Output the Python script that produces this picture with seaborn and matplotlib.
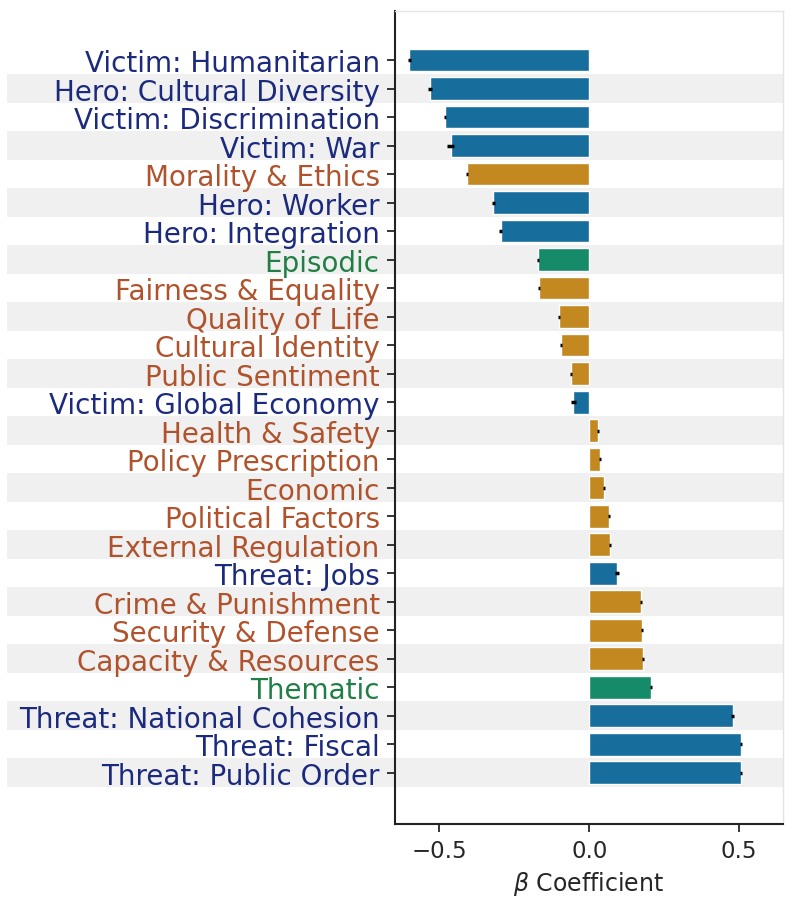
import matplotlib
matplotlib.use("Agg")
import matplotlib.pyplot as plt
import seaborn as sns
import pandas as pd

frames = [
    "Victim: Humanitarian", "Hero: Cultural Diversity", "Victim: Discrimination",
    "Victim: War", "Morality & Ethics", "Hero: Worker", "Hero: Integration",
    "Episodic", "Fairness & Equality", "Quality of Life", "Cultural Identity",
    "Public Sentiment", "Victim: Global Economy", "Health & Safety",
    "Policy Prescription", "Economic", "Political Factors", "External Regulation",
    "Threat: Jobs", "Crime & Punishment", "Security & Defense",
    "Capacity & Resources", "Thematic", "Threat: National Cohesion",
    "Threat: Fiscal", "Threat: Public Order",
]
kinds = [
    "narrative", "narrative", "narrative", "narrative", "generic", "narrative",
    "narrative", "style", "generic", "generic", "generic", "generic",
    "narrative", "generic", "generic", "generic", "generic", "generic",
    "narrative", "generic", "generic", "generic", "style", "narrative",
    "narrative", "narrative",
]
beta = [
    -0.600, -0.531, -0.482, -0.462, -0.409, -0.320, -0.296, -0.171, -0.168,
    -0.101, -0.094, -0.061, -0.053, 0.028, 0.037, 0.048, 0.067, 0.069,
    0.093, 0.173, 0.176, 0.178, 0.205, 0.478, 0.505, 0.505,
]
err = [
    0.004, 0.006, 0.003, 0.012, 0.003, 0.005, 0.004, 0.002, 0.003,
    0.004, 0.003, 0.004, 0.007, 0.003, 0.003, 0.003, 0.003, 0.004,
    0.006, 0.003, 0.003, 0.003, 0.003, 0.004, 0.004, 0.004,
]

bar_palette = {"narrative": "#0173b2", "generic": "#de8f05", "style": "#029e73"}
label_colors = {"narrative": "#1b2a7d", "generic": "#b0532c", "style": "#1f7f45"}

df = pd.DataFrame({"frame": frames, "kind": kinds, "beta": beta})

sns.set_style("ticks")
plt.rcParams["font.family"] = ["DejaVu Sans"]

fig = plt.figure(figsize=(7.88, 9.03), dpi=100)
ax = fig.add_axes([395 / 788, 1 - 825 / 903, (783 - 395) / 788, (825 - 12) / 903])

# alternating light bands spanning the label column and the plot area
for i in range(1, len(frames), 2):
    ax.axhspan(i - 0.5, i + 0.5, xmin=-1.0, xmax=1.0, color="#f0f0f0",
               zorder=0, clip_on=False, lw=0)

sns.barplot(data=df, x="beta", y="frame", hue="kind", palette=bar_palette,
            dodge=False, legend=False, errorbar=None, ax=ax, zorder=2)
ax.errorbar(beta, range(len(frames)), xerr=err, fmt="none",
            ecolor="black", elinewidth=2.5, capsize=0, zorder=3)

ax.set_xlim(-0.648, 0.646)
ax.set_ylim(26.8, -1.72)
ax.set_xticks([-0.5, 0.0, 0.5])
ax.set_xticklabels(["\u22120.5", "0.0", "0.5"])
ax.set_ylabel("")
ax.set_xlabel(r"$\beta$ Coefficient", fontsize=17, labelpad=5)
ax.tick_params(axis="x", labelsize=16.5, length=6, width=1.3, pad=5)
ax.tick_params(axis="y", labelsize=20, length=6, width=1.3, pad=5)

for lbl, k in zip(ax.get_yticklabels(), kinds):
    lbl.set_color(label_colors[k])

for side in ("left", "bottom"):
    ax.spines[side].set_color("#222222")
    ax.spines[side].set_linewidth(1.5)
for side in ("top", "right"):
    ax.spines[side].set_color("#e4e4e4")
    ax.spines[side].set_linewidth(1.0)
ax.set_facecolor("none")

fig.savefig("out.png", dpi=100)
